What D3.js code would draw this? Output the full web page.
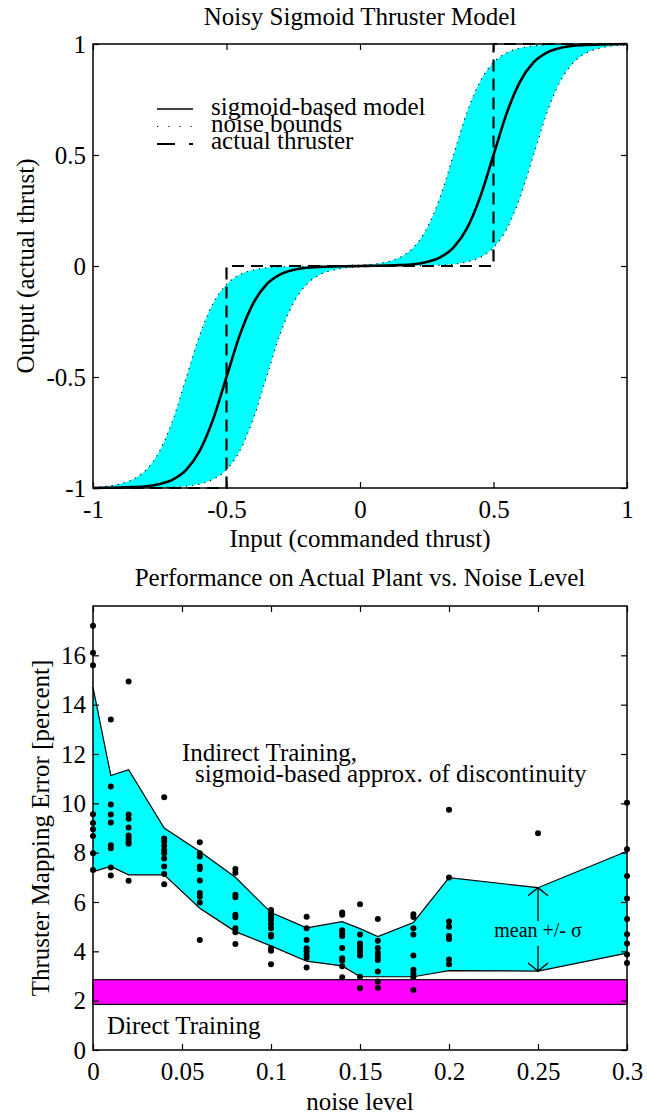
<!DOCTYPE html>
<html>
<head>
<meta charset="utf-8">
<script src="https://cdn.jsdelivr.net/npm/d3@7"></script>
<style>
  body { margin: 0; background: #fff; }
  text { font-family: "Liberation Serif", "Times New Roman", serif; fill: #000; }
</style>
</head>
<body>
<div id="chart"></div>
<script>
// ---- top panel: noisy sigmoid thruster model ----
const inputX = [-1, -0.95, -0.9, -0.85, -0.8, -0.75, -0.7, -0.65, -0.6, -0.55, -0.5, -0.45, -0.4, -0.35, -0.3, -0.25, -0.2, -0.15, -0.1, -0.05,
  0, 0.05, 0.1, 0.15, 0.2, 0.25, 0.3, 0.35, 0.4, 0.45, 0.5, 0.55, 0.6, 0.65, 0.7, 0.75, 0.8, 0.85, 0.9, 0.95, 1];
const modelY = [-1.000, -0.999, -0.998, -0.996, -0.992, -0.982, -0.961, -0.917, -0.832, -0.690, -0.500, -0.310, -0.168, -0.083, -0.039, -0.018, -0.008, -0.004, -0.002, -0.001,
  0, 0.001, 0.002, 0.004, 0.008, 0.018, 0.039, 0.083, 0.168, 0.310, 0.500, 0.690, 0.832, 0.917, 0.961, 0.982, 0.992, 0.996, 0.998, 0.999, 1.000];
const upperY = [-0.996, -0.992, -0.982, -0.961, -0.917, -0.832, -0.690, -0.500, -0.310, -0.168, -0.083, -0.039, -0.018, -0.008, -0.004, -0.002, -0.001, 0, 0.001, 0.002,
  0.004, 0.008, 0.018, 0.039, 0.083, 0.168, 0.310, 0.500, 0.690, 0.832, 0.917, 0.961, 0.982, 0.992, 0.996, 0.998, 0.999, 1.000, 1.000, 1.000, 1.000];
const lowerY = [-1.000, -1.000, -1.000, -1.000, -0.999, -0.998, -0.996, -0.992, -0.982, -0.961, -0.917, -0.832, -0.690, -0.500, -0.310, -0.168, -0.083, -0.039, -0.018, -0.008,
  -0.004, -0.002, -0.001, 0, 0.001, 0.002, 0.004, 0.008, 0.018, 0.039, 0.083, 0.168, 0.310, 0.500, 0.690, 0.832, 0.917, 0.961, 0.982, 0.992, 0.996];
const thrusterX = [-1, -0.5, -0.5, 0.5, 0.5, 1];
const thrusterY = [-1, -1, 0, 0, 1, 1];
const topTicks = [-1, -0.5, 0, 0.5, 1];
const legendLabels = ["sigmoid-based model", "noise bounds", "actual thruster"];

// ---- bottom panel: performance vs noise level ----
const noiseLevels = [0, 0.01, 0.02, 0.04, 0.06, 0.08, 0.1, 0.12, 0.14, 0.15, 0.16, 0.18, 0.2, 0.25, 0.3];
const meanPlusSigma = [14.7, 11.13, 11.36, 9.0, 8.05, 7.0, 5.57, 4.95, 5.2, 4.92, 4.6, 5.17, 6.99, 6.58, 8.06];
const meanMinusSigma = [7.23, 7.44, 7.1, 7.1, 5.75, 4.8, 4.22, 3.6, 3.41, 2.97, 2.97, 2.97, 3.22, 3.2, 3.93];
const trialErrors = [
  [17.2, 16.1, 15.6, 9.56, 9.2, 8.95, 8.68, 7.98, 7.3],
  [13.4, 10.68, 9.95, 9.55, 9.22, 8.3, 8.18, 7.4, 7.07],
  [14.94, 9.55, 9.38, 9.02, 8.7, 8.56, 8.45, 8.36, 6.86],
  [10.25, 8.57, 8.45, 8.28, 8.11, 7.98, 7.76, 7.44, 7.14, 6.72],
  [8.42, 7.98, 7.84, 7.44, 7.34, 6.87, 6.36, 6.22, 5.98, 4.46],
  [7.34, 7.19, 6.29, 6.19, 5.48, 5.38, 4.94, 4.77, 4.3],
  [5.68, 5.55, 5.41, 5.27, 5.1, 4.94, 4.67, 4.6, 4.13, 4.02, 3.48],
  [5.4, 4.94, 4.46, 4.13, 4.0, 3.85, 3.74, 3.34],
  [5.57, 5.48, 4.85, 4.73, 4.62, 4.14, 3.72, 3.62, 3.4, 2.95],
  [5.91, 4.68, 4.32, 4.2, 4.1, 3.97, 3.83, 2.97, 2.5],
  [5.31, 4.43, 4.14, 3.94, 3.79, 3.65, 3.18, 2.78, 2.52],
  [5.5, 5.39, 4.94, 4.68, 3.83, 3.25, 3.1, 2.96, 2.43],
  [9.74, 6.99, 5.21, 5.0, 4.62, 4.5, 3.67, 3.48],
  [8.79],
  [10.02, 8.14, 7.05, 6.14, 5.31, 4.69, 4.32, 3.87, 3.53]
];
const directBand = [1.85, 2.85];
const bottomXTicks = [0, 0.05, 0.1, 0.15, 0.2, 0.25, 0.3];
const bottomYTicks = [0, 2, 4, 6, 8, 10, 12, 14, 16];

// layout
const W = 647, H = 1116;
const left = 93, right = 627;
const topPanel = { top: 44, bottom: 488 };
const botPanel = { top: 606, bottom: 1050 };
const fs = 25;

const svg = d3.select("#chart").append("svg")
  .attr("width", W).attr("height", H)
  .style("font-size", fs + "px");

// draws inward ticks on all four sides plus labels on left and bottom
function drawFrame(g, x, y, xTicks, yTicks, fmt) {
  const h = y.range()[0] - y.range()[1];
  const w = x.range()[1] - x.range()[0];
  const tidy = sel => {
    sel.attr("font-size", null).attr("font-family", null);
    sel.select(".domain").remove();
    sel.selectAll("line").attr("stroke", "#000").attr("stroke-width", 1.2);
  };
  g.append("g").attr("transform", `translate(0,${h})`)
    .call(d3.axisBottom(x).tickValues(xTicks).tickSizeInner(-6).tickSizeOuter(0).tickFormat(fmt))
    .call(tidy)
    .call(s => s.selectAll("text").attr("y", 30).attr("dy", null));
  g.append("g")
    .call(d3.axisTop(x).tickValues(xTicks).tickSizeInner(-6).tickSizeOuter(0).tickFormat(""))
    .call(tidy);
  g.append("g")
    .call(d3.axisLeft(y).tickValues(yTicks).tickSizeInner(-6).tickSizeOuter(0).tickPadding(7).tickFormat(fmt))
    .call(tidy)
    .call(s => s.selectAll("text").attr("dy", "0.33em"));
  g.append("g").attr("transform", `translate(${w},0)`)
    .call(d3.axisRight(y).tickValues(yTicks).tickSizeInner(-6).tickSizeOuter(0).tickFormat(""))
    .call(tidy);
  g.append("rect").attr("width", w).attr("height", h)
    .attr("fill", "none").attr("stroke", "#000").attr("stroke-width", 1.5);
}

// ================= top panel =================
const g1 = svg.append("g").attr("transform", `translate(${left},${topPanel.top})`);
const x1 = d3.scaleLinear().domain([-1, 1]).range([0, right - left]);
const y1 = d3.scaleLinear().domain([-1, 1]).range([topPanel.bottom - topPanel.top, 0]);
const pts = inputX.map((v, i) => ({ x: v, m: modelY[i], hi: upperY[i], lo: lowerY[i] }));

g1.append("path").datum(pts)
  .attr("fill", "#00ffff")
  .attr("d", d3.area().curve(d3.curveMonotoneX).x(d => x1(d.x)).y0(d => y1(d.lo)).y1(d => y1(d.hi)));

["hi", "lo"].forEach(k => {
  g1.append("path").datum(pts)
    .attr("fill", "none").attr("stroke", "#000").attr("stroke-width", 1.1)
    .attr("stroke-dasharray", "1.2,5")
    .attr("d", d3.line().curve(d3.curveMonotoneX).x(d => x1(d.x)).y(d => y1(d[k])));
});

g1.append("path").datum(thrusterX.map((v, i) => [v, thrusterY[i]]))
  .attr("fill", "none").attr("stroke", "#000").attr("stroke-width", 2.2)
  .attr("stroke-dasharray", "12,7")
  .attr("d", d3.line().x(d => x1(d[0])).y(d => y1(d[1])));

g1.append("path").datum(pts)
  .attr("fill", "none").attr("stroke", "#000").attr("stroke-width", 2.6)
  .attr("d", d3.line().curve(d3.curveMonotoneX).x(d => x1(d.x)).y(d => y1(d.m)));

drawFrame(g1, x1, y1, topTicks, topTicks, d => String(d));

// legend
const legendDash = [null, "1.2,10", "18,14"];
const legendWidth = [1.4, 1.2, 2];
legendLabels.forEach((lab, i) => {
  const ly = 109 + i * 17.5;
  svg.append("line").attr("x1", 157).attr("x2", 193).attr("y1", ly).attr("y2", ly)
    .attr("stroke", "#000").attr("stroke-width", legendWidth[i])
    .attr("stroke-dasharray", legendDash[i]);
  svg.append("text").attr("x", 211).attr("y", 115 + i * 17.2).text(lab);
});

// titles and labels
svg.append("text").attr("x", (left + right) / 2).attr("y", 25)
  .attr("text-anchor", "middle").text("Noisy Sigmoid Thruster Model");
svg.append("text").attr("x", (left + right) / 2).attr("y", topPanel.bottom + 59)
  .attr("text-anchor", "middle").text("Input (commanded thrust)");
svg.append("text")
  .attr("transform", `translate(34,${(topPanel.top + topPanel.bottom) / 2}) rotate(-90)`)
  .attr("text-anchor", "middle").text("Output (actual thrust)");

// ================= bottom panel =================
const g2 = svg.append("g").attr("transform", `translate(${left},${botPanel.top})`);
const x2 = d3.scaleLinear().domain([0, 0.3]).range([0, right - left]);
const y2 = d3.scaleLinear().domain([0, 18]).range([botPanel.bottom - botPanel.top, 0]);
const band = noiseLevels.map((v, i) => ({ x: v, hi: meanPlusSigma[i], lo: meanMinusSigma[i] }));

g2.append("path").datum(band)
  .attr("fill", "#00ffff")
  .attr("d", d3.area().x(d => x2(d.x)).y0(d => y2(d.lo)).y1(d => y2(d.hi)));
["hi", "lo"].forEach(k => {
  g2.append("path").datum(band)
    .attr("fill", "none").attr("stroke", "#000").attr("stroke-width", 1.2)
    .attr("d", d3.line().x(d => x2(d.x)).y(d => y2(d[k])));
});

g2.append("rect")
  .attr("x", x2(0)).attr("width", x2(0.3) - x2(0))
  .attr("y", y2(directBand[1])).attr("height", y2(directBand[0]) - y2(directBand[1]))
  .attr("fill", "#ff00ff").attr("stroke", "#000").attr("stroke-width", 1.2);

const dots = [];
trialErrors.forEach((col, i) => col.forEach(v => dots.push({ x: noiseLevels[i], v })));
g2.selectAll(".dot").data(dots).enter().append("circle")
  .attr("class", "dot")
  .attr("cx", d => x2(d.x)).attr("cy", d => y2(d.v)).attr("r", 3)
  .attr("fill", "#000");

// mean +/- sigma annotation at noise level 0.25
const ai = noiseLevels.indexOf(0.25);
const ax = x2(noiseLevels[ai]);
const aTop = y2(meanPlusSigma[ai]), aBot = y2(meanMinusSigma[ai]);
const aBase = y2((meanPlusSigma[ai] + meanMinusSigma[ai]) / 2) + 7.5;
const arrow = g2.append("g").attr("stroke", "#000").attr("stroke-width", 1.3).attr("fill", "none");
arrow.append("line").attr("x1", ax).attr("x2", ax).attr("y1", aTop).attr("y2", aBase - 16);
arrow.append("line").attr("x1", ax).attr("x2", ax).attr("y1", aBase + 9).attr("y2", aBot);
arrow.append("path").attr("d", `M${ax - 10},${aTop + 8}L${ax},${aTop}L${ax + 10},${aTop + 8}`);
arrow.append("path").attr("d", `M${ax - 10},${aBot - 8}L${ax},${aBot}L${ax + 10},${aBot - 8}`);
g2.append("text").attr("x", ax).attr("y", aBase)
  .attr("text-anchor", "middle").style("font-size", "20px").text("mean +/- σ");

g2.append("text").attr("x", x2(0.05)).attr("y", y2(11.72)).text("Indirect Training,");
g2.append("text").attr("x", x2(0.05) + 13).attr("y", y2(11.72) + 21)
  .text("sigmoid-based approx. of discontinuity");
g2.append("text").attr("x", x2(0) + 14).attr("y", y2(0) - 16).text("Direct Training");

drawFrame(g2, x2, y2, bottomXTicks, bottomYTicks, d => String(d));

svg.append("text").attr("x", (left + right) / 2).attr("y", 586)
  .attr("text-anchor", "middle").text("Performance on Actual Plant vs. Noise Level");
svg.append("text").attr("x", (left + right) / 2).attr("y", botPanel.bottom + 60)
  .attr("text-anchor", "middle").text("noise level");
svg.append("text")
  .attr("transform", `translate(49,${(botPanel.top + botPanel.bottom) / 2}) rotate(-90)`)
  .attr("text-anchor", "middle").text("Thruster Mapping Error [percent]");
</script>
</body>
</html>
